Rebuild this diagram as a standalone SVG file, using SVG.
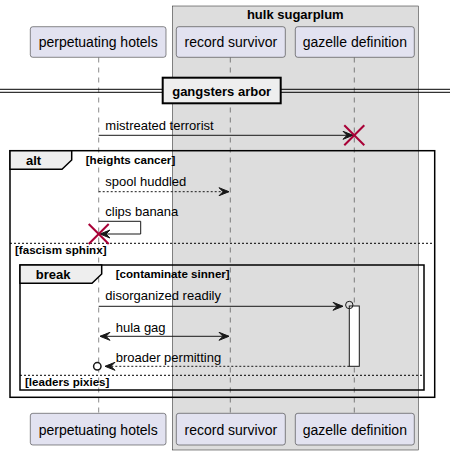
<svg xmlns="http://www.w3.org/2000/svg" width="450" height="455" viewBox="0 0 450 455">
<defs>
<style>
.p{fill:#E2E2F0;stroke:#181818;stroke-width:0.5}
.pt{font-family:"Liberation Sans",Arial,sans-serif;font-size:14px;fill:#000;text-anchor:middle}
.m{font-family:"Liberation Sans",Arial,sans-serif;font-size:13px;fill:#000}
.b13{font-family:"Liberation Sans",Arial,sans-serif;font-size:13px;font-weight:bold;fill:#000}
.b11{font-family:"Liberation Sans",Arial,sans-serif;font-size:11.6px;font-weight:bold;fill:#000}
.ll{stroke:#181818;stroke-width:0.5;stroke-dasharray:5,5;fill:none}
.ln{stroke:#181818;stroke-width:1;fill:none}
.dl{stroke:#181818;stroke-width:1;stroke-dasharray:2,2;fill:none}
.ah{fill:#181818;stroke:#181818;stroke-width:1}
.x{stroke:#A80036;stroke-width:2}
.fr{fill:none;stroke:#000;stroke-width:1.5}
.tab{fill:#EEEEEE;stroke:#000;stroke-width:1.5}
.sep{stroke:#000;stroke-width:1;stroke-dasharray:2,2}
</style>
</defs>
<g id="box-hulk-sugarplum">
<rect x="172.3" y="6" width="246" height="444" fill="#DDDDDD" stroke="#181818" stroke-width="0.5"/>
<text class="b13" x="295.3" y="19" text-anchor="middle">hulk sugarplum</text>
</g>
<g id="lifelines">
<line class="ll" x1="98.7" y1="57.5" x2="98.7" y2="413"/>
<line class="ll" x1="230.3" y1="57.5" x2="230.3" y2="413"/>
<line class="ll" x1="354.3" y1="57.5" x2="354.3" y2="413"/>
</g>
<g id="participant-perpetuating-hotels">
<rect class="p" x="30.3" y="26.7" width="135.7" height="30.6" rx="2.5"/>
<text class="pt" x="98.2" y="47">perpetuating hotels</text>
<rect class="p" x="30.3" y="413.3" width="135.7" height="31.7" rx="2.5"/>
<text class="pt" x="98.2" y="434.5">perpetuating hotels</text>
</g>
<g id="participant-record-survivor">
<rect class="p" x="176.3" y="26.7" width="109" height="30.6" rx="2.5"/>
<text class="pt" x="230.8" y="47">record survivor</text>
<rect class="p" x="176.3" y="413.3" width="109" height="31.7" rx="2.5"/>
<text class="pt" x="230.8" y="434.5">record survivor</text>
</g>
<g id="participant-gazelle-definition">
<rect class="p" x="295.3" y="26.7" width="119" height="30.6" rx="2.5"/>
<text class="pt" x="354.8" y="47">gazelle definition</text>
<rect class="p" x="295.3" y="413.3" width="119" height="31.7" rx="2.5"/>
<text class="pt" x="354.8" y="434.5">gazelle definition</text>
</g>
<g id="divider-gangsters-arbor">
<line x1="0" y1="89.3" x2="450" y2="89.3" stroke="#000" stroke-width="1"/>
<line x1="0" y1="92.3" x2="450" y2="92.3" stroke="#000" stroke-width="1"/>
<rect x="162.7" y="77.7" width="118" height="25.6" fill="#EEEEEE" stroke="#000" stroke-width="2"/>
<text class="b13" x="221.7" y="95.5" text-anchor="middle">gangsters arbor</text>
</g>
<g id="frame-alt">
<rect class="fr" x="10" y="150.7" width="424.7" height="246.6"/>
<path class="tab" d="M10,150.7 H71.7 V160 L62,169.3 H10 Z"/>
<text class="b13" x="26" y="164.5">alt</text>
<text class="b11" x="85.7" y="164">[heights cancer]</text>
<line class="sep" x1="10" y1="243.3" x2="434.7" y2="243.3"/>
<text class="b11" x="15" y="253.5">[fascism sphinx]</text>
</g>
<g id="frame-break">
<rect class="fr" x="20" y="265" width="404" height="125"/>
<path class="tab" d="M20,265 H101.7 V274 L92,283.3 H20 Z"/>
<text class="b13" x="35.7" y="279">break</text>
<text class="b11" x="115.7" y="278.3">[contaminate sinner]</text>
<line class="sep" x1="20" y1="375.3" x2="424" y2="375.3"/>
<text class="b11" x="25" y="386">[leaders pixies]</text>
</g>
<g id="activation-gazelle">
<rect x="349.3" y="306" width="10" height="60.3" fill="#FFFFFF" stroke="#181818" stroke-width="1"/>
</g>
<g id="connectors">
<g id="msg-mistreated-terrorist">
<line class="ln" x1="98.7" y1="135.3" x2="353" y2="135.3"/>
<polygon class="ah" points="343,131.3 353,135.3 343,139.3 347,135.3"/>
<text class="m" x="105.3" y="130">mistreated terrorist</text>
<line class="x" x1="344.3" y1="125.3" x2="364.3" y2="145.3"/>
<line class="x" x1="364.3" y1="125.3" x2="344.3" y2="145.3"/>
</g>
<g id="msg-spool-huddled">
<line class="dl" x1="98.7" y1="191.7" x2="229" y2="191.7"/>
<polygon class="ah" points="219,187.7 229,191.7 219,195.7 223,191.7"/>
<text class="m" x="105.3" y="186">spool huddled</text>
</g>
<g id="msg-clips-banana">
<polyline class="ln" points="98.7,221.3 140.7,221.3 140.7,234 100,234"/>
<polygon class="ah" points="110,230 100,234 110,238 106,234"/>
<text class="m" x="105.3" y="216">clips banana</text>
<line class="x" x1="88.7" y1="224" x2="108.7" y2="244"/>
<line class="x" x1="108.7" y1="224" x2="88.7" y2="244"/>
</g>
<g id="msg-disorganized-readily">
<line class="ln" x1="98.7" y1="306.3" x2="343" y2="306.3"/>
<polygon class="ah" points="333,302.3 343,306.3 333,310.3 337,306.3"/>
<circle cx="349.3" cy="305" r="3.7" fill="none" stroke="#181818" stroke-width="1"/>
<text class="m" x="105.3" y="300">disorganized readily</text>
</g>
<g id="msg-hula-gag">
<line class="ln" x1="100" y1="336.3" x2="229" y2="336.3"/>
<polygon class="ah" points="110,332.3 100,336.3 110,340.3 106,336.3"/>
<polygon class="ah" points="219,332.3 229,336.3 219,340.3 223,336.3"/>
<text class="m" x="115.7" y="331.5">hula gag</text>
</g>
<g id="msg-broader-permitting">
<line class="dl" x1="349.3" y1="366.3" x2="105" y2="366.3"/>
<polygon class="ah" points="115,362.3 105,366.3 115,370.3 111,366.3"/>
<circle cx="97.3" cy="366.3" r="3.7" fill="#FFFFFF" stroke="#181818" stroke-width="1.5"/>
<text class="m" x="115.7" y="361.5">broader permitting</text>
</g>
</g>
</svg>
